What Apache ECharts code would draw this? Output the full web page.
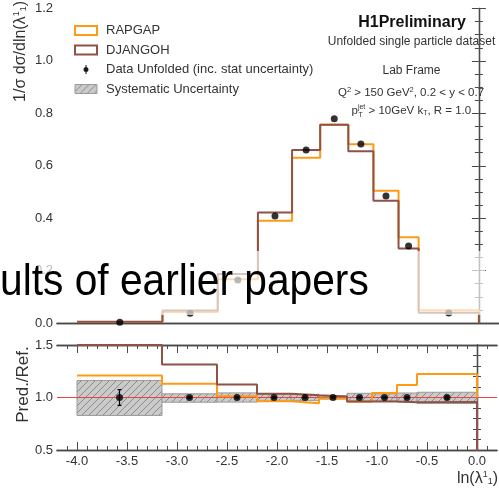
<!DOCTYPE html>
<html>
<head>
<meta charset="utf-8">
<script src="https://cdn.jsdelivr.net/npm/echarts@6/dist/echarts.min.js"></script>
<style>
html, body { margin: 0; padding: 0; background: #fff; }
#main { width: 499px; height: 490px; }
</style>
</head>
<body>
<div id="main"></div>
<script>
var chart = echarts.init(document.getElementById('main'));

// bin edges in ln(lambda)
var binEdges = [-4.0, -3.15, -2.6, -2.2, -1.86, -1.58, -1.3, -1.05, -0.8, -0.6, 0.0];

// normalised cross section (top panel)
var dataValues    = [0.003, 0.037, 0.164, 0.408, 0.660, 0.779, 0.683, 0.485, 0.294, 0.038];
var rapgapValues  = [0.004, 0.042, 0.167, 0.390, 0.631, 0.756, 0.682, 0.505, 0.327, 0.049];
var djangohValues = [0.005, 0.048, 0.187, 0.422, 0.660, 0.756, 0.655, 0.466, 0.284, 0.039];

// ratio to data (bottom panel)
var dataRatio    = [1, 1, 1, 1, 1, 1, 1, 1, 1, 1];
var ratioStatErr = [0.075, 0.008, 0.006, 0.005, 0.004, 0.004, 0.004, 0.005, 0.006, 0.012];
var rapgapRatio  = [1.21, 1.13, 1.013, 0.965, 0.946, 0.99, 0.962, 1.044, 1.12, 1.225];
var djangohRatio = [1.5, 1.314, 1.124, 1.035, 1.022, 1.01, 0.962, 0.962, 0.955, 0.958];
var systHigh = [1.162, 1.035, 1.044, 1.035, 1.030, 1.015, 1.040, 1.035, 1.043, 1.050];
var systLow  = [0.829, 0.955, 0.956, 0.965, 0.970, 0.985, 0.960, 0.965, 0.957, 0.945];

// x ticks of the ratio panel
var xMajorTicks = [-4.0, -3.5, -3.0, -2.5, -2.0, -1.5, -1.0, -0.5, 0.0];
var xMinorTicks = [-4.1, -3.9, -3.8, -3.7, -3.6, -3.4, -3.3, -3.2, -3.1, -2.9, -2.8, -2.7, -2.6,
  -2.4, -2.3, -2.2, -2.1, -1.9, -1.8, -1.7, -1.6, -1.4, -1.3, -1.2, -1.1, -0.9, -0.8, -0.7, -0.6,
  -0.4, -0.3, -0.2, -0.1, 0.1];

var ORANGE = '#ff9a14';
var BROWN = '#8e5246';
var AXIS = '#4a4a4a';
var FONT = 'Liberation Sans';

// hatch pattern for systematic boxes
var hc = document.createElement('canvas');
hc.width = 7; hc.height = 7;
var hx = hc.getContext('2d');
hx.fillStyle = '#cacaca';
hx.fillRect(0, 0, 7, 7);
hx.strokeStyle = '#8a8a8a';
hx.lineWidth = 1;
hx.beginPath();
hx.moveTo(0, 7); hx.lineTo(7, 0);
hx.moveTo(-1, 1); hx.lineTo(1, -1);
hx.moveTo(6, 8); hx.lineTo(8, 6);
hx.stroke();
var hatch = { image: hc, repeat: 'repeat' };

function stepPoints(vals, tail) {
  var pts = vals.map(function (v, i) { return [binEdges[i], v]; });
  var last = binEdges[binEdges.length - 1];
  pts.push([last, vals[vals.length - 1]]);
  if (tail !== null) pts.push([last, tail]);
  return pts;
}
var binCenters = binEdges.slice(0, -1).map(function (e, i) { return (e + binEdges[i + 1]) / 2; });

var systData = systLow.map(function (lo, i) { return [binEdges[i], binEdges[i + 1], lo, systHigh[i]]; });
var errData = dataRatio.map(function (r, i) { return [binCenters[i], r, ratioStatErr[i]]; });

function renderSyst(params, api) {
  var a = api.coord([api.value(0), api.value(3)]);
  var b = api.coord([api.value(1), api.value(2)]);
  return {
    type: 'rect',
    shape: { x: a[0], y: a[1], width: b[0] - a[0], height: b[1] - a[1] },
    style: { fill: hatch, stroke: '#9a9a9a', lineWidth: 1 }
  };
}
function renderErr(params, api) {
  var x = api.value(0), y = api.value(1), e = api.value(2);
  var hi = api.coord([x, y + e]);
  var lo = api.coord([x, y - e]);
  var st = { stroke: '#000', lineWidth: 1.2 };
  return {
    type: 'group',
    children: [
      { type: 'line', shape: { x1: hi[0], y1: hi[1], x2: lo[0], y2: lo[1] }, style: st },
      { type: 'line', shape: { x1: hi[0] - 2, y1: hi[1], x2: hi[0] + 2, y2: hi[1] }, style: st },
      { type: 'line', shape: { x1: lo[0] - 2, y1: lo[1], x2: lo[0] + 2, y2: lo[1] }, style: st }
    ]
  };
}

var tickLabel = { fontFamily: FONT, fontSize: 13, color: '#333' };
var plainX = { min: -4.2, max: 0.2, splitLine: { show: false }, axisLabel: { show: false },
  axisTick: { show: false }, axisLine: { lineStyle: { color: AXIS, width: 1.3 } } };

function xAx(grid, pos, ticks, len, labels) {
  return {
    type: 'value', gridIndex: grid, position: pos, min: -4.2, max: 0.2,
    splitLine: { show: false },
    axisLine: { lineStyle: { color: AXIS, width: 1.3 } },
    axisTick: { inside: true, length: len, customValues: ticks, lineStyle: { color: AXIS } },
    axisLabel: labels ? Object.assign({ customValues: ticks, margin: 5,
      formatter: function (v) { return v.toFixed(1); } }, tickLabel) : { show: false },
    name: labels ? 'ln(λ{sup|1}{sub|1})' : '',
    nameLocation: 'end',
    nameGap: 0,
    nameTextStyle: {
      fontFamily: FONT, fontSize: 16, color: '#333', align: 'right', verticalAlign: 'top',
      padding: [20, -1, 0, 0],
      rich: { sup: { fontSize: 9, verticalAlign: 'top', padding: [0, 0, 8, 0] },
              sub: { fontSize: 9, padding: [6, 0, 0, 0] } }
    }
  };
}
function yAx(grid, pos, min, max, interval, split, labels) {
  return {
    type: 'value', gridIndex: grid, position: pos, min: min, max: max, interval: interval,
    splitLine: { show: false },
    axisLine: { lineStyle: { color: AXIS, width: 1.3 } },
    axisTick: { inside: true, length: 7, lineStyle: { color: AXIS } },
    minorTick: { show: true, splitNumber: split, length: 4, lineStyle: { color: AXIS } },
    axisLabel: labels ? Object.assign({ margin: 4, formatter: function (v) { return v.toFixed(1); } }, tickLabel)
                      : { show: false }
  };
}

var option = {
  animation: false,
  backgroundColor: '#fff',
  textStyle: { fontFamily: FONT },
  grid: [
    { left: 57, top: 8.5, width: 443, height: 314.5 },
    { left: 57, top: 345, width: 443, height: 105 }
  ],
  xAxis: [
    Object.assign({ type: 'value', gridIndex: 0, position: 'bottom' }, plainX),
    Object.assign({ type: 'value', gridIndex: 0, position: 'top' }, plainX),
    xAx(1, 'bottom', xMajorTicks, 8, true),
    xAx(1, 'bottom', xMinorTicks, 4, false),
    xAx(1, 'top', xMajorTicks, 8, false),
    xAx(1, 'top', xMinorTicks, 4, false)
  ],
  yAxis: [
    yAx(0, 'left', 0, 1.2, 0.2, 4, true),
    yAx(0, 'right', 0, 1.2, 0.2, 4, false),
    yAx(1, 'left', 0.5, 1.5, 0.5, 5, true),
    yAx(1, 'right', 0.5, 1.5, 0.5, 5, false)
  ],
  legend: {
    orient: 'vertical', left: 69, top: 19, itemWidth: 22, itemHeight: 9, itemGap: 6.5,
    selectedMode: false,
    textStyle: { fontFamily: FONT, fontSize: 13, color: '#333', padding: [0, 0, 0, 4] },
    data: [
      { name: 'RAPGAP', icon: 'rect', itemStyle: { color: '#fff', borderColor: ORANGE, borderWidth: 2 } },
      { name: 'DJANGOH', icon: 'rect', itemStyle: { color: '#fff', borderColor: BROWN, borderWidth: 2 } },
      { name: 'Data Unfolded (inc. stat uncertainty)',
        icon: 'path://M3,0 L3,14 M0,7 A3,3 0 1,0 6,7 A3,3 0 1,0 0,7 Z',
        itemStyle: { color: '#000', borderColor: '#000', borderWidth: 1.2 } },
      { name: 'Systematic Uncertainty', icon: 'rect',
        itemStyle: { color: hatch, borderColor: '#9a9a9a', borderWidth: 1 } }
    ]
  },
  series: [
    // top panel
    { name: 'RAPGAP', type: 'line', xAxisIndex: 0, yAxisIndex: 0, step: 'end', showSymbol: false,
      data: stepPoints(rapgapValues, 0), lineStyle: { color: ORANGE, width: 2 }, itemStyle: { color: ORANGE }, z: 3 },
    { name: 'DJANGOH', type: 'line', xAxisIndex: 0, yAxisIndex: 0, step: 'end', showSymbol: false,
      data: stepPoints(djangohValues, 0), lineStyle: { color: BROWN, width: 2 }, itemStyle: { color: BROWN }, z: 4 },
    { name: 'Data Unfolded (inc. stat uncertainty)', type: 'scatter', xAxisIndex: 0, yAxisIndex: 0,
      symbolSize: 7, itemStyle: { color: '#000' }, z: 6,
      data: dataValues.map(function (v, i) { return [binCenters[i], v]; }) },
    // ratio panel
    { name: 'Systematic Uncertainty', type: 'custom', xAxisIndex: 2, yAxisIndex: 2, clip: true,
      renderItem: renderSyst, data: systData, itemStyle: { color: hatch }, z: 2 },
    { type: 'line', xAxisIndex: 2, yAxisIndex: 2, showSymbol: false, silent: true,
      data: [[-4.2, 1], [0.2, 1]], lineStyle: { color: '#e8453c', width: 1 }, z: 3 },
    { name: 'RAPGAP', type: 'line', xAxisIndex: 2, yAxisIndex: 2, step: 'end', showSymbol: false,
      data: stepPoints(rapgapRatio, 1), lineStyle: { color: ORANGE, width: 2 }, z: 4 },
    { name: 'DJANGOH', type: 'line', xAxisIndex: 2, yAxisIndex: 2, step: 'end', showSymbol: false,
      data: stepPoints(djangohRatio, 0), lineStyle: { color: BROWN, width: 2 }, z: 4 },
    { type: 'custom', xAxisIndex: 2, yAxisIndex: 2, renderItem: renderErr, data: errData, z: 5 },
    { name: 'Data Unfolded (inc. stat uncertainty)', type: 'scatter', xAxisIndex: 2, yAxisIndex: 2,
      symbolSize: 7, itemStyle: { color: '#000' }, z: 6,
      data: dataRatio.map(function (v, i) { return [binCenters[i], v]; }) }
  ],
  graphic: [
    { type: 'text', x: 21, y: 1, rotation: Math.PI / 2,
      style: { text: '1/σ dσ/dln(λ{sup|1}{sub|1})', fontFamily: FONT, fontSize: 16, fill: '#333',
        align: 'right', verticalAlign: 'middle',
        rich: { sup: { fontSize: 9, fill: '#333', padding: [0, 0, 8, 0] }, sub: { fontSize: 9, fill: '#333', padding: [6, 0, 0, 0] } } } },
    { type: 'text', x: 23, y: 384.5, rotation: Math.PI / 2,
      style: { text: 'Pred./Ref.', fontFamily: FONT, fontSize: 17, fill: '#333', align: 'center', verticalAlign: 'middle' } },
    { type: 'text', x: 412, y: 22.5,
      style: { text: 'H1Preliminary', fontFamily: FONT, fontSize: 16, fontWeight: 'bold', fill: '#111', align: 'center', verticalAlign: 'middle' } },
    { type: 'text', x: 411.5, y: 41.5,
      style: { text: 'Unfolded single particle dataset', fontFamily: FONT, fontSize: 12, fill: '#333', align: 'center', verticalAlign: 'middle' } },
    { type: 'text', x: 411.5, y: 70.5,
      style: { text: 'Lab Frame', fontFamily: FONT, fontSize: 12, fill: '#333', align: 'center', verticalAlign: 'middle' } },
    { type: 'text', x: 411, y: 93,
      style: { text: 'Q{sup|2} > 150 GeV{sup|2}, 0.2 < y < 0.7', fontFamily: FONT, fontSize: 11.5, fill: '#333',
        align: 'center', verticalAlign: 'middle',
        rich: { sup: { fontSize: 7.5, fill: '#333', padding: [0, 0, 7, 0] } } } },
    { type: 'text', x: 351.5, y: 111,
      style: { text: 'p{sup|jet} > 10GeV k{sub|T}, R = 1.0', fontFamily: FONT, fontSize: 11.5, fill: '#333',
        align: 'left', verticalAlign: 'middle',
        rich: { sup: { fontSize: 7, fill: '#333', padding: [0, 0, 8, 0] }, sub: { fontSize: 7, fill: '#333', padding: [5, 0, 0, 0] } } } },
    { type: 'text', x: 358.5, y: 115,
      style: { text: 'T', fontFamily: FONT, fontSize: 7, fill: '#333', align: 'left', verticalAlign: 'middle' } },
    // caption overlay from the video frame
    { type: 'rect', z: 50, shape: { x: 0, y: 251, width: 485, height: 64 }, style: { fill: 'rgba(255,255,255,0.66)' } },
    { type: 'text', z: 51, x: 0, y: 283, scaleX: 0.925,
      style: { text: 'ults of earlier papers', fontFamily: FONT, fontSize: 44, fill: '#000', align: 'left', verticalAlign: 'middle' } }
  ]
};

chart.setOption(option);
</script>
</body>
</html>
